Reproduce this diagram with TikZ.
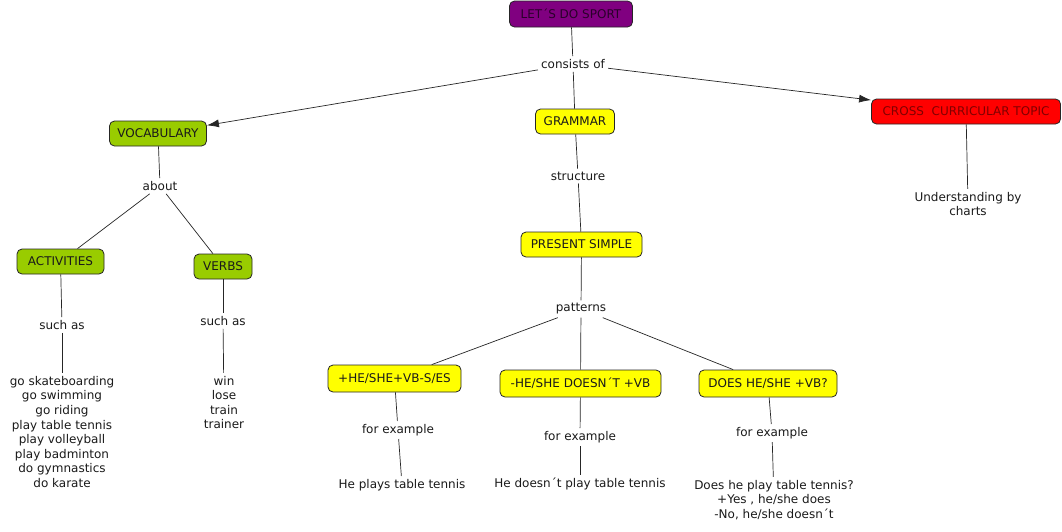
\documentclass[tikz,border=0pt]{standalone}
\usepackage{fontspec}
\setmainfont{DejaVu Sans}
\usetikzlibrary{arrows.meta}
\definecolor{cpurple}{HTML}{800080}
\definecolor{cgreen}{HTML}{99CC00}
\definecolor{cyellow}{HTML}{FFFF00}
\definecolor{cred}{HTML}{FF0000}
\definecolor{ctext}{HTML}{1A1A1A}
\definecolor{credtext}{HTML}{800000}
\definecolor{cpurtext}{HTML}{2A002A}
\begin{document}
\begin{tikzpicture}[x=1pt,y=-1pt,
  font=\fontsize{12}{14.6}\selectfont,
  box/.style={draw=black!85, rounded corners=5pt, line width=0.8pt, inner sep=0pt, align=center, text=ctext},
  lbl/.style={inner sep=3pt, align=center, text=ctext},
  conn/.style={line width=0.7pt, draw=black!85},
  arr/.style={conn, -{Latex[length=12pt,width=8pt]}}]
\useasboundingbox[fill=white] (0,0) rectangle (1062,531);
% boxes
\node[box, fill=cpurple, text=cpurtext, minimum width=123, minimum height=26] (top) at (571,14) {LET´S DO SPORT};
\node[box, fill=cgreen, minimum width=97, minimum height=25] (vocab) at (158,133.5) {VOCABULARY};
\node[box, fill=cyellow, minimum width=79, minimum height=25] (gram) at (575,121.5) {GRAMMAR};
\node[box, fill=cred, text=credtext, minimum width=189, minimum height=25] (cross) at (966,111.5) {CROSS~~CURRICULAR TOPIC};
\node[box, fill=cgreen, minimum width=87, minimum height=25] (act) at (60.5,261.5) {ACTIVITIES};
\node[box, fill=cgreen, minimum width=58, minimum height=25] (verbs) at (223,266.5) {VERBS};
\node[box, fill=cyellow, minimum width=121, minimum height=25] (pres) at (581.5,244.5) {PRESENT SIMPLE};
\node[box, fill=cyellow, minimum width=133, minimum height=27] (p1) at (394.5,378.5) {+HE/SHE+VB-S/ES};
\node[box, fill=cyellow, minimum width=161, minimum height=27] (p2) at (580.5,383.5) {-HE/SHE DOESN´T +VB};
\node[box, fill=cyellow, minimum width=138, minimum height=27] (p3) at (768,383.5) {DOES HE/SHE +VB?};
% labels
\node[lbl] (cons) at (573,64) {consists of};
\node[lbl] (about) at (160,186) {about};
\node[lbl] (struct) at (578,176) {structure};
\node[lbl] (under) at (968,204) {Understanding by\\charts};
\node[lbl] (such1) at (62,325) {such as};
\node[lbl] (such2) at (223,321) {such as};
\node[lbl] (patt) at (581,309) {patterns};
\node[lbl] (fe1) at (398,430) {for example};
\node[lbl] (fe2) at (580,437) {for example};
\node[lbl] (fe3) at (772,433) {for example};
% texts
\node[lbl] (actlist) at (62,432) {go skateboarding\\go swimming\\go riding\\play table tennis\\play volleyball\\play badminton\\do gymnastics\\do karate};
\node[lbl] (verblist) at (224,402.5) {win\\lose\\train\\trainer};
\node[lbl] (ex1) at (402,485) {He plays table tennis};
\node[lbl] (ex2) at (580,484) {He doesn´t play table tennis};
\node[lbl] (ex3) at (774,500) {Does he play table tennis?\\+Yes , he/she does\\-No, he/she doesn´t};
% connectors
\draw[conn] (top) -- (cons);
\draw[arr] (cons) -- (vocab);
\draw[conn] (cons) -- (gram);
\draw[arr] (cons) -- (cross);
\draw[conn] (cross) -- (under);
\draw[conn] (vocab) -- (about);
\draw[conn] (about) -- (act);
\draw[conn] (about) -- (verbs);
\draw[conn] (act) -- (such1);
\draw[conn] (such1) -- (actlist);
\draw[conn] (verbs) -- (such2);
\draw[conn] (such2) -- (verblist);
\draw[conn] (gram) -- (struct);
\draw[conn] (struct) -- (pres);
\draw[conn] (pres) -- (patt);
\draw[conn] (patt) -- (p1);
\draw[conn] (patt) -- (p2);
\draw[conn] (patt) -- (p3);
\draw[conn] (p1) -- (fe1);
\draw[conn] (fe1) -- (ex1);
\draw[conn] (p2) -- (fe2);
\draw[conn] (fe2) -- (ex2);
\draw[conn] (p3) -- (fe3);
\draw[conn] (fe3) -- (ex3);
\end{tikzpicture}
\end{document}
